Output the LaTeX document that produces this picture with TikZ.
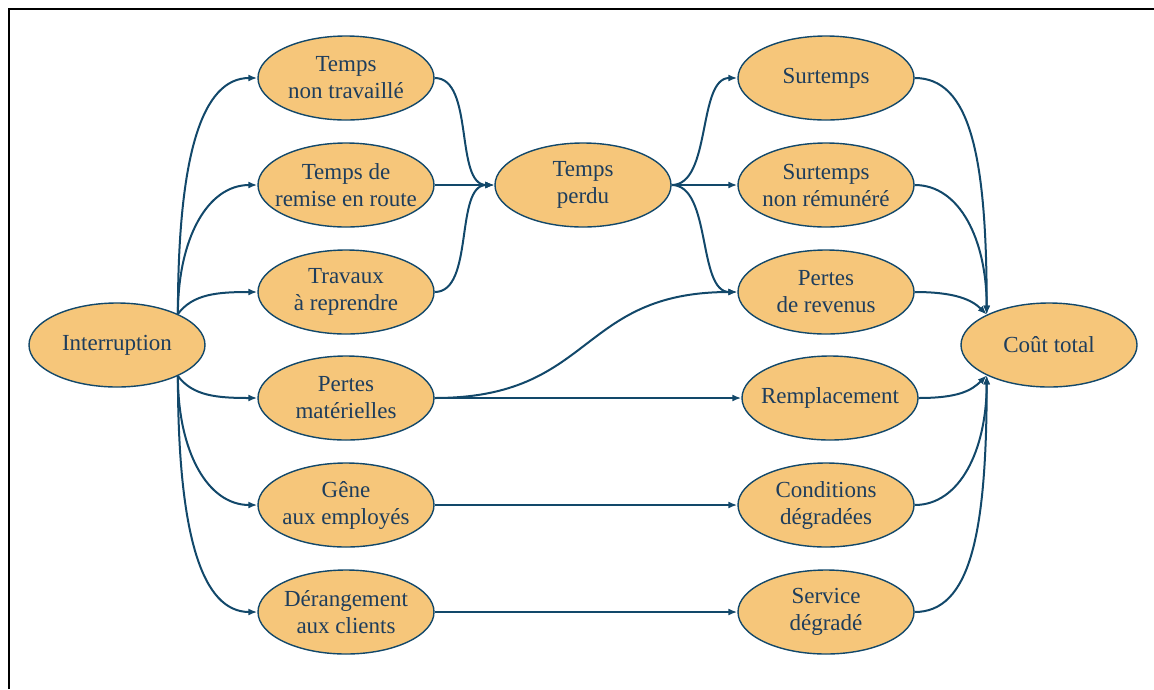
\documentclass[tikz,border=0pt]{standalone}
\usepackage{fontspec}
\setmainfont{Liberation Serif}
\usetikzlibrary{arrows.meta,shapes.geometric}
\definecolor{fillc}{HTML}{F6C67A}
\definecolor{edgec}{HTML}{12486A}
\definecolor{textc}{HTML}{1E3D5C}
\begin{document}
\begin{tikzpicture}[x=1pt,y=-1pt,
  ov/.style={ellipse,draw=edgec,line width=1.4pt,fill=fillc,minimum width=176pt,minimum height=84pt,inner xsep=-12pt,inner ysep=-4pt,align=center,text=textc,font=\fontsize{23}{27}\selectfont},
  conn/.style={draw=edgec,line width=2pt,-{Latex[length=9pt,width=7pt]}}]
\useasboundingbox (0,0) rectangle (1154,689);
\draw[line width=2.5pt] (9,689) -- (9,9) -- (1154,9);
\node[ov] (int) at (117,345) {Interruption};
\node[ov] (tnt) at (346,78) {Temps\\non travaillé};
\node[ov] (trr) at (346,185) {Temps de\\remise en route};
\node[ov] (tar) at (346,292) {Travaux\\à reprendre};
\node[ov] (pm) at (346,398) {Pertes\\matérielles};
\node[ov] (gae) at (346,505) {Gêne\\aux employés};
\node[ov] (dac) at (346,612) {Dérangement\\aux clients};
\node[ov] (tp) at (583,185) {Temps\\perdu};
\node[ov] (st) at (826,78) {Surtemps};
\node[ov] (snr) at (826,185) {Surtemps\\non rémunéré};
\node[ov] (pdr) at (826,292) {Pertes\\de revenus};
\node[ov] (rem) at (830,398) {Remplacement};
\node[ov] (cd) at (826,505) {Conditions\\dégradées};
\node[ov] (sd) at (826,612) {Service\\dégradé};
\node[ov] (ct) at (1049,345) {Coût total};
% Interruption fan-out
\draw[conn] (int.27) .. controls +(0,-160) and +(-55,0) .. (tnt.west);
\draw[conn] (int.27) .. controls +(0,-75) and +(-50,0) .. (trr.west);
\draw[conn] (int.27) .. controls +(15,-20) and +(-40,0) .. (tar.west);
\draw[conn] (int.-27) .. controls +(15,20) and +(-40,0) .. (pm.west);
\draw[conn] (int.-27) .. controls +(0,75) and +(-50,0) .. (gae.west);
\draw[conn] (int.-27) .. controls +(0,160) and +(-55,0) .. (dac.west);
% to Temps perdu
\draw[conn] (tnt.east) .. controls +(40,0) and +(-40,0) .. (tp.west);
\draw[conn] (trr.east) -- (tp.west);
\draw[conn] (tar.east) .. controls +(40,0) and +(-40,0) .. (tp.west);
% from Temps perdu
\draw[conn] (tp.east) .. controls +(40,0) and +(-40,0) .. (st.west);
\draw[conn] (tp.east) -- (snr.west);
\draw[conn] (tp.east) .. controls +(40,0) and +(-40,0) .. (pdr.west);
% straight ones
\draw[conn] (pm.east) .. controls +(160,0) and +(-160,0) .. (pdr.west);
\draw[conn] (pm.east) -- (rem.west);
\draw[conn] (gae.east) -- (cd.west);
\draw[conn] (dac.east) -- (sd.west);
% to Cout total
\draw[conn] (st.east) .. controls +(55,0) and +(0,-160) .. (ct.154);
\draw[conn] (snr.east) .. controls +(45,0) and +(0,-75) .. (ct.154);
\draw[conn] (pdr.east) .. controls +(40,0) and +(-15,-15) .. (ct.154);
\draw[conn] (rem.east) .. controls +(40,0) and +(-15,15) .. (ct.-154);
\draw[conn] (cd.east) .. controls +(45,0) and +(0,75) .. (ct.-154);
\draw[conn] (sd.east) .. controls +(55,0) and +(0,160) .. (ct.-154);
\end{tikzpicture}
\end{document}
